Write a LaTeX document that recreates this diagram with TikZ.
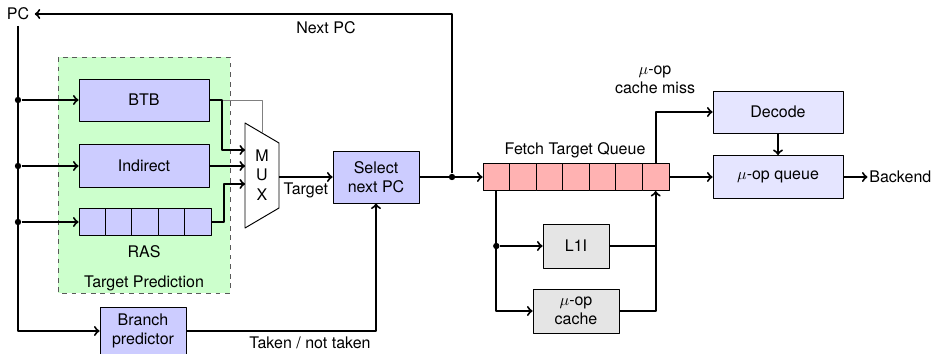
\documentclass[tikz,border=0pt]{standalone}
\usepackage{fontspec}
\setmainfont{TeX Gyre Heros}
\usetikzlibrary{calc}

\begin{document}
\begin{tikzpicture}[x=0.625pt,y=-0.625pt,>=to,line join=round,
  blk/.style={draw,semithick,fill=blue!20,inner sep=0pt,align=center},
  cell/.style={draw,semithick,inner sep=0pt,minimum width=16.6pt,minimum height=16.9pt},
  wire/.style={line width=1.25pt},
  dot/.style={circle,fill,inner sep=0pt,minimum size=4pt}]
  \useasboundingbox (0,0) rectangle (936,353);
  % target prediction region (dashed, light green)
  \draw[dashed,semithick,draw=black!65,fill=green!20] (58,57) rectangle (230,293);
  \node at (144,283) {Target Prediction};
  % predictors
  \node[blk,minimum width=81.25pt,minimum height=26.25pt] (btb) at (144,100) {BTB};
  \node[blk,minimum width=81.25pt,minimum height=26.9pt] (ind) at (144,166) {Indirect};
  \foreach \i in {1,...,5}
    \node[cell,fill=blue!20,minimum width=16.5pt] (ras\i) at ({79+26.4*(\i-0.5)},222) {};
  \node at (144,252) {RAS};
  \node[blk,minimum width=53.75pt,minimum height=30pt] (bp) at (143,331) {Branch\\predictor};
  % mux (trapezoid)
  \coordinate (mtl) at (245,123);
  \coordinate (mtr) at (279,143);
  \coordinate (mbr) at (279,208);
  \coordinate (mbl) at (245,228);
  \draw[semithick,fill=white] (mtl) -- (mtr) -- (mbr) -- (mbl) -- cycle;
  \node[align=center] (mux) at (262,175) {M\\U\\X};
  \coordinate (m1) at (245,150);
  \coordinate (m2) at (245,166);
  \coordinate (m3) at (245,184);
  \coordinate (msel) at (262,133);
  \coordinate (mout) at (279,177);
  \node[blk,minimum width=53.75pt,minimum height=32.5pt] (sel) at (376,177) {Select\\next PC};
  % fetch target queue
  \foreach \i in {1,...,7}
    \node[cell,fill=red!30] (ftq\i) at ({483+26.57*(\i-0.5)},177) {};
  \node at (575,150) {Fetch Target Queue};
  \node[blk,fill=gray!20,minimum width=41.25pt,minimum height=27.5pt] (l1i) at (576,246) {L1I};
  \node[blk,fill=gray!20,minimum width=53.75pt,minimum height=27.5pt] (uc) at (576,311) {$\mu$-op\\cache};
  \node[blk,fill=blue!10,minimum width=81.25pt,minimum height=26.25pt] (dec) at (778,112) {Decode};
  \node[blk,fill=blue!10,minimum width=81.25pt,minimum height=26.9pt] (uq) at (778,177) {$\mu$-op queue};
  \node[anchor=west,inner sep=0pt] (be) at (869,177) {Backend};
  \node (pc) at (18,14) {PC};

  % PC fan-out
  \draw[wire,->] (pc.south) |- (bp.west);
  \foreach \n in {btb,ind,ras1}{
    \node[dot] (d\n) at (\n.west -| pc.south) {};
    \draw[wire,->] (d\n) -- (\n.west);
  }
  % predictors into the mux
  \draw[thin,gray] (btb.east) -| (msel);
  \draw[wire,->] (btb.east) -- ++(13,0) |- (m1);
  \draw[wire,->] (ind.east) -- (m2);
  \draw[wire,->] (ras5.east) -- ++(13,0) |- (m3);
  \draw[wire,->] (mout) -- (sel.west) node[midway,below] {Target};
  \draw[wire,->] (bp.east) -| (sel.south);
  \node at (310,343) {Taken / not taken};
  % next PC loop and FTQ
  \node[dot] (jn) at (452,177) {};
  \draw[wire,->] (sel.east) -- (ftq1.west);
  \draw[wire,->] (jn) |- (pc.east);
  \node at (326,28) {Next PC};
  % L1I / uop cache refill
  \draw[wire,->] (ftq1.south) |- (uc.west);
  \node[dot] (jl) at (ftq1.south |- l1i.west) {};
  \draw[wire,->] (jl) -- (l1i.west);
  \draw[wire,->] (uc.east) -| (ftq7.south);
  \draw[wire] (l1i.east) -- (l1i.east -| ftq7.south);
  % decode path
  \draw[wire,->] (ftq7.north) |- (dec.west);
  \node[align=center] at (655,80) {$\mu$-op\\cache miss};
  \draw[wire,->] (ftq7.east) -- (uq.west);
  \draw[wire,->] (dec.south) -- (uq.north);
  \draw[wire,->] (uq.east) -- ++(24,0);
\end{tikzpicture}
\end{document}
